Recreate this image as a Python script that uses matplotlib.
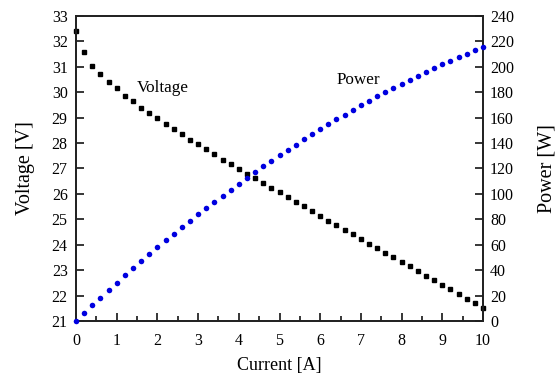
import matplotlib
matplotlib.use('Agg')
import matplotlib.pyplot as plt
from matplotlib.ticker import MultipleLocator

current = [i * 0.2 for i in range(51)]
voltage = [32.42, 31.57, 31.04, 30.70, 30.39, 30.15, 29.86, 29.65, 29.39, 29.17,
           28.97, 28.76, 28.56, 28.34, 28.12, 27.95, 27.75, 27.56, 27.34, 27.17,
           26.98, 26.78, 26.61, 26.44, 26.24, 26.06, 25.87, 25.69, 25.51, 25.31,
           25.13, 24.94, 24.76, 24.59, 24.41, 24.22, 24.04, 23.87, 23.69, 23.50,
           23.32, 23.15, 22.96, 22.78, 22.60, 22.42, 22.25, 22.07, 21.88, 21.71,
           21.52]
power = [0.0, 6.3, 12.4, 18.4, 24.3, 30.2, 35.8, 41.5, 47.0, 52.5,
         57.9, 63.3, 68.5, 73.7, 78.7, 83.9, 88.8, 93.7, 98.4, 103.2,
         107.9, 112.5, 117.1, 121.6, 126.0, 130.3, 134.5, 138.7, 142.9, 146.8,
         150.8, 154.6, 158.5, 162.3, 166.0, 169.5, 173.1, 176.6, 180.0, 183.3,
         186.6, 189.8, 192.9, 195.9, 198.9, 201.8, 204.7, 207.5, 210.0, 212.8,
         215.2]

plt.rcParams['font.family'] = ['Liberation Serif', 'DejaVu Serif']
plt.rcParams['font.size'] = 11.5

fig = plt.figure(figsize=(5.59, 3.78), dpi=100)
ax = fig.add_axes([0.136, 0.151, 0.728, 0.807])
ax2 = ax.twinx()

ax.plot(current, voltage, 's', color='black', ms=3.3, clip_on=False, zorder=3)
ax2.plot(current, power, 'o', color='#0000e0', ms=4, mec='none', clip_on=False, zorder=3)

ax.set_xlim(0, 10)
ax.set_ylim(21, 33)
ax2.set_ylim(0, 240)
ax.xaxis.set_major_locator(MultipleLocator(1))
ax.xaxis.set_minor_locator(MultipleLocator(0.5))
ax.yaxis.set_major_locator(MultipleLocator(1))
ax2.yaxis.set_major_locator(MultipleLocator(20))

ax.tick_params(axis='x', direction='in', length=6, width=1.1, top=False, pad=9)
ax.tick_params(axis='x', which='minor', direction='in', length=3.5, width=1.1, top=False)
ax.tick_params(axis='y', direction='in', length=6, width=1.1, right=False, pad=6)
ax2.tick_params(axis='y', direction='in', length=6, width=1.1, pad=5)

for a in (ax, ax2):
    for s in a.spines.values():
        s.set_linewidth(1.3)
        s.set_color('#222222')

ax.set_xlabel('Current [A]', fontsize=13)
ax.set_ylabel('Voltage [V]', fontsize=14.5)
ax2.set_ylabel('Power [W]', fontsize=14.5)
ax.xaxis.set_label_coords(0.5, -0.118)
ax.yaxis.set_label_coords(-0.10, 0.5)
ax2.yaxis.set_label_coords(1.133, 0.5)

ax.text(2.14, 30.17, 'Voltage', ha='center', va='center', fontsize=12.3)
ax.text(6.95, 30.48, 'Power', ha='center', va='center', fontsize=12.3)

fig.savefig('out.png', dpi=100)
